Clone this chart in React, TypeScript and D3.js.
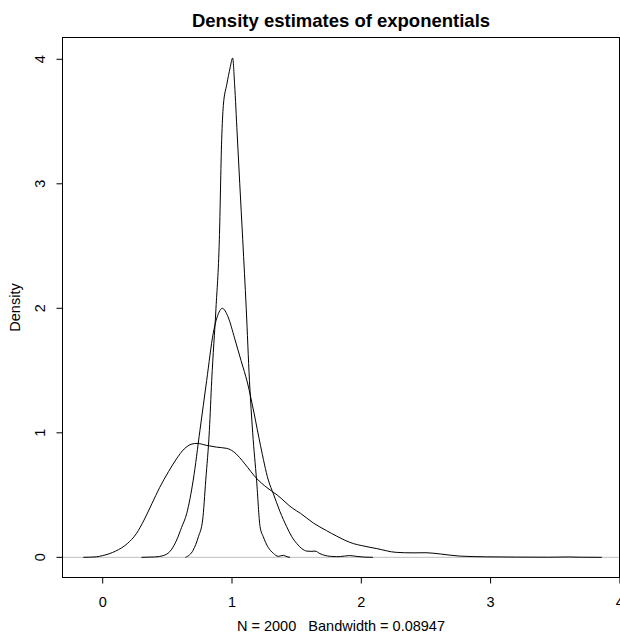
import React from "react";
import * as d3 from "d3";

const W = 620;
const H = 634;

const xTicks = [0, 1, 2, 3, 4];
const yTicks = [0, 1, 2, 3, 4];
const title = "Density estimates of exponentials";
const xLabel = "N = 2000   Bandwidth = 0.08947";
const yLabel = "Density";

// n = 5 means (widest)
const wideX = [-0.15, -0.05, 0.0, 0.1, 0.19, 0.26, 0.32, 0.38, 0.44, 0.51, 0.57, 0.63, 0.69, 0.73, 0.8, 0.88, 0.96, 1.01, 1.06, 1.1, 1.19, 1.27, 1.35, 1.47, 1.53, 1.63, 1.73, 1.81, 1.94, 2.0, 2.12, 2.27, 2.4, 2.5, 2.61, 2.76, 2.97, 3.2, 3.45, 3.6, 3.7, 3.86];
const wideY = [0, 0.004, 0.014, 0.05, 0.11, 0.19, 0.3, 0.43, 0.56, 0.69, 0.79, 0.87, 0.91, 0.915, 0.9, 0.885, 0.875, 0.85, 0.8, 0.75, 0.634, 0.56, 0.5, 0.393, 0.353, 0.275, 0.215, 0.17, 0.11, 0.095, 0.07, 0.04, 0.036, 0.037, 0.027, 0.01, 0.004, 0.002, 0.001, 0.003, 0.001, 0];

// middle curve
const midX = [0.3, 0.4, 0.48, 0.53, 0.572, 0.61, 0.65, 0.7, 0.752, 0.804, 0.855, 0.9, 0.925, 0.97, 1.02, 1.07, 1.12, 1.17, 1.22, 1.281, 1.32, 1.37, 1.423, 1.46, 1.5, 1.54, 1.578, 1.61, 1.642, 1.68, 1.72, 1.76, 1.81, 1.87, 1.91, 1.96, 2.02, 2.09];
const midY = [0, 0.003, 0.018, 0.06, 0.139, 0.24, 0.353, 0.62, 1.02, 1.42, 1.8, 1.97, 2.0, 1.93, 1.76, 1.58, 1.4, 1.16, 0.9, 0.62, 0.51, 0.37, 0.246, 0.17, 0.112, 0.07, 0.05, 0.048, 0.05, 0.03, 0.015, 0.008, 0.005, 0.01, 0.014, 0.008, 0.002, 0];

// narrowest curve
const narrowX = [0.64, 0.7, 0.74, 0.773, 0.797, 0.825, 0.843, 0.876, 0.902, 0.92, 0.933, 0.96, 0.985, 1.005, 1.02, 1.04, 1.06, 1.083, 1.11, 1.135, 1.16, 1.19, 1.217, 1.242, 1.28, 1.32, 1.358, 1.397, 1.425, 1.449];
const narrowY = [0, 0.058, 0.165, 0.3, 0.62, 1.02, 1.42, 2.0, 2.55, 3.35, 3.63, 3.8, 3.93, 4.01, 3.8, 3.4, 3.0, 2.55, 2.0, 1.42, 1.0, 0.62, 0.246, 0.165, 0.08, 0.032, 0.008, 0.016, 0.005, 0];

const seriesList = [
  { xs: wideX, ys: wideY },
  { xs: midX, ys: midY },
  { xs: narrowX, ys: narrowY },
];

const plotL = 62.5, plotR = 619.5, plotT = 37.5, plotB = 577.5;

export default function App() {
  const x = d3.scaleLinear().domain([-0.311, 3.997]).range([plotL, plotR]);
  const y = d3.scaleLinear().domain([-0.162, 4.175]).range([plotB, plotT]);
  const line = d3
    .line<[number, number]>()
    .x((d) => x(d[0]))
    .y((d) => y(d[1]))
    .curve(d3.curveMonotoneX);

  const font = "'Liberation Sans', Arial, Helvetica, sans-serif";
  return (
    <svg
      width={W}
      height={H}
      style={{ position: "absolute", left: 0, top: 0, background: "#fff" }}
      fontFamily={font}
    >
      <rect x={0} y={0} width={W} height={H} fill="#fff" />
      <defs>
        <clipPath id="plotclip">
          <rect x={plotL} y={plotT} width={plotR - plotL} height={plotB - plotT} />
        </clipPath>
      </defs>
      <line x1={plotL} x2={plotR} y1={y(0)} y2={y(0)} stroke="#bebebe" strokeWidth={1} />
      <g clipPath="url(#plotclip)">
        {seriesList.map((s, i) => (
          <path
            key={i}
            d={line(s.xs.map((v, j) => [v, s.ys[j]] as [number, number])) || ""}
            fill="none"
            stroke="#000"
            strokeWidth={1}
          />
        ))}
      </g>
      <rect x={plotL} y={plotT} width={plotR - plotL} height={plotB - plotT} fill="none" stroke="#000" strokeWidth={1} />
      {/* x axis */}
      <line x1={x(xTicks[0])} x2={x(xTicks[xTicks.length - 1])} y1={plotB} y2={plotB} stroke="#000" />
      {xTicks.map((t) => (
        <g key={"x" + t}>
          <line x1={x(t)} x2={x(t)} y1={plotB} y2={plotB + 6} stroke="#000" />
          <text x={x(t)} y={607} textAnchor="middle" fontSize={14.5} fill="#000">
            {t}
          </text>
        </g>
      ))}
      {/* y axis */}
      <line x1={plotL} x2={plotL} y1={y(yTicks[0])} y2={y(yTicks[yTicks.length - 1])} stroke="#000" />
      {yTicks.map((t) => (
        <g key={"y" + t}>
          <line x1={plotL - 6} x2={plotL} y1={y(t)} y2={y(t)} stroke="#000" />
          <text
            transform={`translate(45,${y(t)}) rotate(-90)`}
            textAnchor="middle"
            fontSize={14.5}
            fill="#000"
          >
            {t}
          </text>
        </g>
      ))}
      <text x={(plotL + plotR) / 2} y={27} textAnchor="middle" fontSize={18.5} fontWeight="bold" fill="#000">
        {title}
      </text>
      <text
        x={(plotL + plotR) / 2}
        y={631}
        textAnchor="middle"
        fontSize={14.5}
        fill="#000"
        xmlSpace="preserve"
        style={{ whiteSpace: "pre" }}
      >
        {xLabel}
      </text>
      <text transform={`translate(20,${(plotT + plotB) / 2}) rotate(-90)`} textAnchor="middle" fontSize={14.5} fill="#000">
        {yLabel}
      </text>
    </svg>
  );
}
